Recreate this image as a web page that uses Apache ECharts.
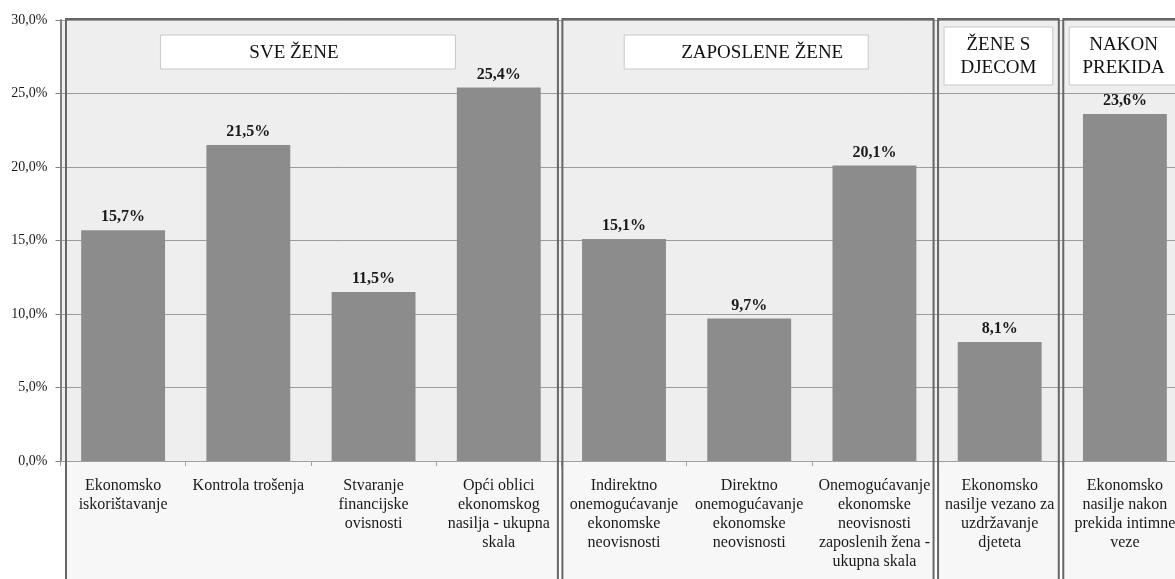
<!DOCTYPE html>
<html>
<head>
<meta charset="utf-8">
<script src="https://cdn.jsdelivr.net/npm/echarts@6/dist/echarts.min.js"></script>
<style>
html,body{margin:0;padding:0;background:#fff;overflow:hidden;width:1175px;height:579px;}
#chart{width:1200px;height:579px;}
</style>
</head>
<body>
<div id="chart"></div>
<script>
// ---- data ----
var categories = [
  "Ekonomsko\niskorištavanje",
  "Kontrola trošenja",
  "Stvaranje\nfinancijske\novisnosti",
  "Opći oblici\nekonomskog\nnasilja - ukupna\nskala",
  "Indirektno\nonemogućavanje\nekonomske\nneovisnosti",
  "Direktno\nonemogućavanje\nekonomske\nneovisnosti",
  "Onemogućavanje\nekonomske\nneovisnosti\nzaposlenih žena -\nukupna skala",
  "Ekonomsko\nnasilje vezano za\nuzdržavanje\ndjeteta",
  "Ekonomsko\nnasilje nakon\nprekida intimne\nveze"
];
var values = [15.7, 21.5, 11.5, 25.4, 15.1, 9.7, 20.1, 8.1, 23.6];
var groupNames = ["SVE ŽENE", "ZAPOSLENE ŽENE", "ŽENE S\nDJECOM", "NAKON\nPREKIDA"];
var groupSizes = [4, 3, 1, 1];
var yTicks = [0, 5, 10, 15, 20, 25, 30];

// ---- layout (not data) ----
var titleBoxWidth = [295, 244, null, null]; // null => fill group box with inset
var titleTextShift = [-14, 16, 0, 0];
var serif = "'Liberation Serif','DejaVu Serif',serif";

var chart = echarts.init(document.getElementById('chart'), null, {renderer: 'canvas'});

function fmt(v){ return v.toFixed(1).replace('.', ',') + '%'; }

chart.setOption({
  animation: false,
  grid: {left: 60.5, top: 20, bottom: 118, width: 1127, show: true, backgroundColor: '#eeeeee', borderWidth: 0, containLabel: false, outerBoundsMode: 'none'},
  xAxis: {
    type: 'category',
    data: categories,
    axisLine: {show: true, lineStyle: {color: '#a0a0a0', width: 1}},
    axisTick: {show: true, alignWithLabel: false, length: 5, lineStyle: {color: '#a0a0a0'}},
    axisLabel: {interval: 0, margin: 15, fontFamily: serif, fontSize: 16, lineHeight: 19, color: '#1a1a1a', align: 'center', verticalAlign: 'top'},
    splitLine: {show: false}
  },
  yAxis: {
    type: 'value',
    min: yTicks[0], max: yTicks[yTicks.length - 1], interval: yTicks[1] - yTicks[0],
    axisLine: {show: true, lineStyle: {color: '#808080', width: 2}},
    axisTick: {show: true, length: 5, lineStyle: {color: '#808080'}},
    axisLabel: {margin: 13, fontFamily: serif, fontSize: 14, color: '#1a1a1a', formatter: function(v){ return fmt(v); }},
    splitLine: {show: true, lineStyle: {color: '#9c9c9c', width: 1}}
  },
  series: [{
    type: 'bar',
    data: values,
    barCategoryGap: '33%',
    itemStyle: {color: '#8c8c8c'},
    z: 5,
    label: {show: true, position: 'top', distance: 5, fontFamily: serif, fontSize: 16, fontWeight: 'bold', color: '#1a1a1a', formatter: function(p){ return fmt(p.value); }}
  }]
});

// ---- group boxes from the axis scale ----
var c0 = chart.convertToPixel({xAxisIndex: 0}, 0);
var c1 = chart.convertToPixel({xAxisIndex: 0}, 1);
var band = c1 - c0;
var yTop = chart.convertToPixel({yAxisIndex: 0}, yTicks[yTicks.length - 1]);
var yZero = chart.convertToPixel({yAxisIndex: 0}, 0);
var graphics = [];
var start = 0;
for (var g = 0; g < groupSizes.length; g++) {
  var leftB = chart.convertToPixel({xAxisIndex: 0}, start) - band / 2;
  var rightB = chart.convertToPixel({xAxisIndex: 0}, start + groupSizes[g] - 1) + band / 2;
  var bx = leftB + (g === 0 ? 5.5 : 1);
  var bx2 = rightB - 3.5;
  var by = yTop - 1;
  var bh = 640 - by;
  graphics.push({type: 'rect', shape: {x: bx, y: yZero + 0.5, width: bx2 - bx, height: bh}, style: {fill: '#f7f7f7'}, z: -5, silent: true});
  graphics.push({type: 'rect', shape: {x: bx, y: by, width: bx2 - bx, height: bh}, style: {fill: null, stroke: '#666666', lineWidth: 2}, z: 50, silent: true});
  var tw, tx, ty, th;
  if (titleBoxWidth[g]) {
    tw = titleBoxWidth[g];
    tx = (leftB + rightB) / 2 - 3 - tw / 2;
    ty = yTop + 15; th = 34;
  } else {
    tx = bx + 6; tw = bx2 - bx - 12;
    ty = yTop + 7; th = 58;
  }
  graphics.push({type: 'rect', shape: {x: tx, y: ty, width: tw, height: th}, style: {fill: '#ffffff', stroke: '#c8c8c8', lineWidth: 1}, z: 40, silent: true});
  graphics.push({type: 'text', x: tx + tw / 2 + titleTextShift[g], y: ty + th / 2 + 1, style: {text: groupNames[g], fontFamily: serif, fontSize: 19, lineHeight: 23, fill: '#111', align: 'center', verticalAlign: 'middle'}, z: 41, silent: true});
  start += groupSizes[g];
}
chart.setOption({graphic: graphics});
</script>
</body>
</html>
